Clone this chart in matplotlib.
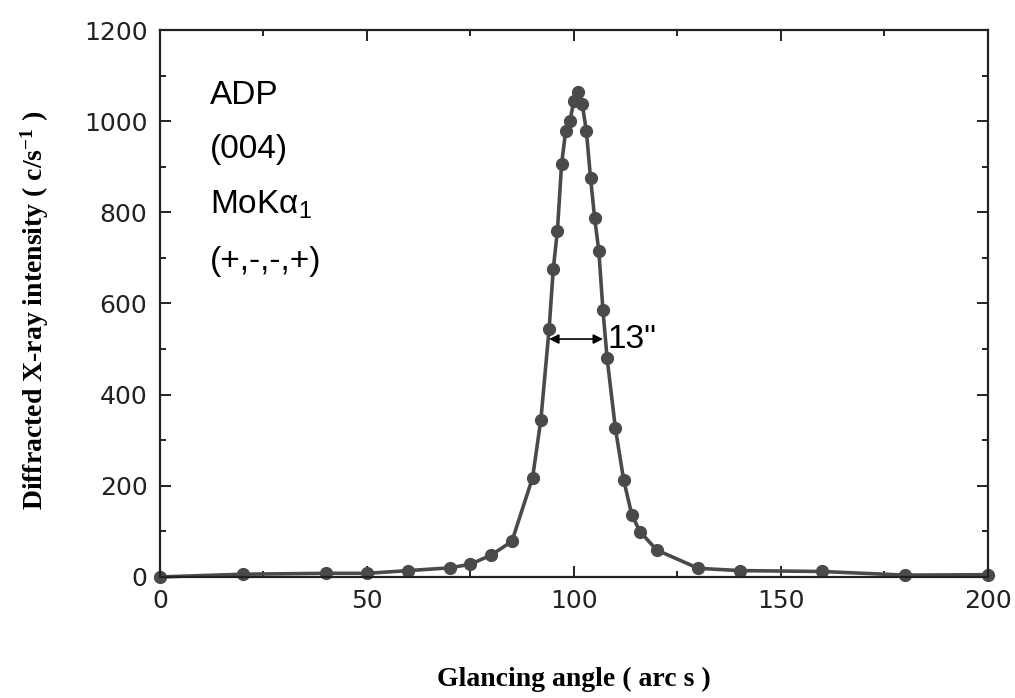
import matplotlib
matplotlib.use("Agg")
from matplotlib import pyplot as plt
from matplotlib.ticker import MultipleLocator

# glancing angle (arc s) and diffracted intensity (c/s)
angle = [0, 20, 40, 50, 60, 70, 75, 80, 85, 90, 92, 94, 95, 96, 97, 98, 99,
         100, 101, 102, 103, 104, 105, 106, 107, 108, 110, 112, 114, 116,
         120, 130, 140, 160, 180, 200]
intensity = [0, 6, 8, 8, 14, 20, 28, 48, 78, 218, 345, 545, 676, 760, 905,
             979, 1000, 1045, 1065, 1037, 978, 875, 787, 715, 585, 480, 326,
             213, 135, 99, 59, 19, 14, 12, 4, 5]

labels = ["ADP", "(004)", r"MoK$\alpha_1$", "(+,-,-,+)"]
fwhm_left, fwhm_right, fwhm_level = 94, 107, 522

plt.rcParams["mathtext.default"] = "regular"

fig = plt.figure(figsize=(10.15, 6.98), dpi=100)
ax = fig.add_axes([0.1576, 0.1734, 0.8158, 0.7836])

col = "#4a4a4a"
ax.plot(angle, intensity, "-o", color=col, lw=2.6, ms=8.5, clip_on=False)

ax.set_xlim(0, 200)
ax.set_ylim(0, 1200)
ax.xaxis.set_major_locator(MultipleLocator(50))
ax.xaxis.set_minor_locator(MultipleLocator(25))
ax.yaxis.set_major_locator(MultipleLocator(200))
ax.yaxis.set_minor_locator(MultipleLocator(100))
ax.tick_params(which="both", direction="in", top=True, right=True,
               width=1.4, color="#222222")
ax.tick_params(which="major", length=8, labelsize=18, pad=9,
               labelcolor="#222222")
ax.tick_params(which="minor", length=4)
for lab in ax.get_xticklabels() + ax.get_yticklabels():
    lab.set_family("DejaVu Sans")
for s in ax.spines.values():
    s.set_linewidth(1.6)
    s.set_color("#222222")

ax.set_xlabel("Glancing angle ( arc s )", family="Liberation Serif",
              weight="bold", size=20)
ax.set_ylabel("Diffracted X-ray intensity ( c/s$^{-1}$ )",
              family="Liberation Serif", weight="bold", size=20)
ax.xaxis.set_label_coords(0.5, -0.165)
ax.yaxis.set_label_coords(-0.132, 0.488)

ys = [0.881, 0.781, 0.68, 0.576]
for t, y in zip(labels, ys):
    ax.text(0.06, y, t, transform=ax.transAxes, family="Liberation Sans",
            size=24, va="center", ha="left")

ax.annotate("", xy=(fwhm_left, fwhm_level), xytext=(fwhm_right, fwhm_level),
            arrowprops=dict(arrowstyle="<|-|>", color="black", lw=1.2,
                            mutation_scale=14, shrinkA=0, shrinkB=0))
ax.text(fwhm_right + 1.0, fwhm_level, "13\"", family="Liberation Sans",
        size=24, va="center", ha="left")

fig.savefig("out.png", dpi=100)
